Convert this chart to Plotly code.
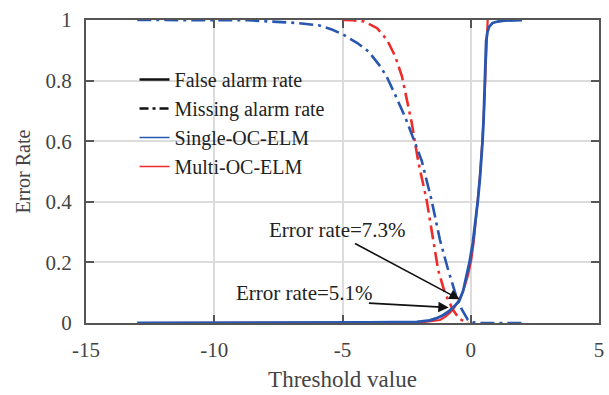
import plotly.graph_objects as go

# ---- data ----
single_fa_x = [-13, -10, -7, -5, -4, -3, -2.1, -1.6, -1.33, -1.1, -0.88, -0.7, -0.56, -0.45, -0.3, -0.17, -0.05,
               0.08, 0.18, 0.28, 0.36, 0.41, 0.46, 0.5, 0.54, 0.57, 0.6, 0.65, 0.72, 0.85, 1.05, 1.3, 1.6, 2.0]
single_fa_y = [0, 0, 0, 0.001, 0.002, 0.003, 0.004, 0.009, 0.016, 0.025, 0.037, 0.05, 0.064, 0.073, 0.105, 0.153, 0.2,
               0.264, 0.33, 0.406, 0.48, 0.535, 0.6, 0.67, 0.8, 0.88, 0.93, 0.96, 0.978, 0.99, 0.995, 0.998, 0.999, 1.0]

multi_fa_x = [-13, -10, -7, -5, -3, -1.85, -1.5, -1.2, -1.0, -0.82, -0.65, -0.49, -0.35, -0.24, -0.1, 0.02,
              0.12, 0.21, 0.3, 0.37, 0.45, 0.5, 0.54, 0.58, 0.62, 0.66]
multi_fa_y = [0, 0, 0, 0, 0.001, 0.003, 0.006, 0.01, 0.02, 0.033, 0.05, 0.07, 0.095, 0.12, 0.16, 0.208,
              0.27, 0.35, 0.43, 0.495, 0.6, 0.67, 0.74, 0.84, 0.93, 1.0]

single_ma_x = [-13, -10, -8.67, -6.74, -5.9, -5.39, -5.0, -4.42, -3.97, -3.52, -3.26, -2.94, -2.56, -2.17, -1.91,
               -1.53, -1.2, -0.88, -0.56, -0.37, -0.11, 0.1, 0.3, 1.0, 2.0]
single_ma_y = [1.0, 1.0, 0.999, 0.99, 0.982, 0.968, 0.953, 0.924, 0.895, 0.846, 0.81, 0.752, 0.68, 0.594, 0.535,
               0.406, 0.274, 0.175, 0.087, 0.048, 0.01, 0.002, 0.0, 0.0, 0.0]

multi_ma_x = [-5.0, -4.6, -4.16, -3.65, -3.26, -2.94, -2.68, -2.49, -2.30, -2.17, -2.04, -1.72, -1.46, -1.27,
              -1.01, -0.69, -0.45, -0.24, -0.1]
multi_ma_y = [1.0, 0.999, 0.995, 0.973, 0.934, 0.879, 0.813, 0.736, 0.66, 0.594, 0.53, 0.406, 0.274, 0.175,
              0.099, 0.043, 0.015, 0.004, 0.0]

legend_names = ["False alarm rate", "Missing alarm rate", "Single-OC-ELM", "Multi-OC-ELM"]
x_ticks = [-15, -10, -5, 0, 5]
y_ticks = [0, 0.2, 0.4, 0.6, 0.8, 1]
y_tick_labels = ["0", "0.2", "0.4", "0.6", "0.8", "1"]

# annotations: (text, text_x, text_y, arrow_tail_x, arrow_tail_y, head_x, head_y)
notes = [
    ("Error rate=7.3%", -5.2, 0.307, -4.57, 0.265, -0.43, 0.078),
    ("Error rate=5.1%", -6.5, 0.099, -4.03, 0.066, -0.86, 0.051),
]

BLUE = "#2757b0"
RED = "#ef2b2b"
FONT = "Liberation Serif"
GRAY = "#444444"
DASHDOT = "14px,5px,3px,5px"

fig = go.Figure()

fig.add_trace(go.Scatter(x=multi_fa_x, y=multi_fa_y, mode="lines", line=dict(color=RED, width=2.2),
                         showlegend=False, hoverinfo="skip"))
fig.add_trace(go.Scatter(x=multi_ma_x, y=multi_ma_y, mode="lines", line=dict(color=RED, width=2.6, dash=DASHDOT),
                         showlegend=False, hoverinfo="skip"))
fig.add_trace(go.Scatter(x=single_ma_x, y=single_ma_y, mode="lines", line=dict(color=BLUE, width=2.6, dash=DASHDOT),
                         showlegend=False, hoverinfo="skip"))
fig.add_trace(go.Scatter(x=single_fa_x, y=single_fa_y, mode="lines", line=dict(color=BLUE, width=2.8),
                         showlegend=False, hoverinfo="skip"))

# legend entries
leg_styles = [dict(color="#111111", width=2.5), dict(color="#111111", width=2.5, dash="9px,4px,3px,4px"),
              dict(color=BLUE, width=1.5), dict(color=RED, width=1.5)]
for i, (nm, st) in enumerate(zip(legend_names, leg_styles)):
    fig.add_trace(go.Scatter(x=[None], y=[None], mode="lines", line=st, name=nm, legendgroup=str(i)))

for text, tx, ty, ax_, ay_, hx, hy in notes:
    fig.add_annotation(x=tx, y=ty, xref="x", yref="y", text=text, showarrow=False,
                       font=dict(family=FONT, size=21, color="#222222"))
    fig.add_annotation(x=hx, y=hy, ax=ax_, ay=ay_, xref="x", yref="y", axref="x", ayref="y",
                       text="", showarrow=True, arrowhead=2, arrowsize=1.3, arrowwidth=1.6,
                       arrowcolor="#111111")

axis_common = dict(showline=True, linecolor="#555555", linewidth=2, mirror="ticks", ticks="inside",
                   ticklen=8, tickwidth=2, tickcolor="#555555", showgrid=True, gridcolor="#dcdcdc",
                   gridwidth=1.5, zeroline=False, layer="below traces",
                   tickfont=dict(family=FONT, size=21, color=GRAY))

fig.update_xaxes(range=[-15, 5], tickvals=x_ticks, ticktext=[str(v) for v in x_ticks],
                 title=dict(text="Threshold value", font=dict(family=FONT, size=23, color=GRAY), standoff=10),
                 ticklabelstandoff=7, **axis_common)
fig.update_yaxes(range=[0, 1], tickvals=y_ticks, ticktext=y_tick_labels,
                 title=dict(text="Error Rate", font=dict(family=FONT, size=20, color=GRAY), standoff=10),
                 ticklabelstandoff=8, **axis_common)

fig.update_layout(
    width=609, height=395,
    margin=dict(l=86, r=5, t=20, b=72),
    paper_bgcolor="white", plot_bgcolor="white",
    legend=dict(x=0.0946, y=0.868, xanchor="left", yanchor="top", bgcolor="rgba(0,0,0,0)",
                font=dict(family=FONT, size=20, color="#222222"), tracegroupgap=0, borderwidth=0),
)

fig.write_html("out.html")
